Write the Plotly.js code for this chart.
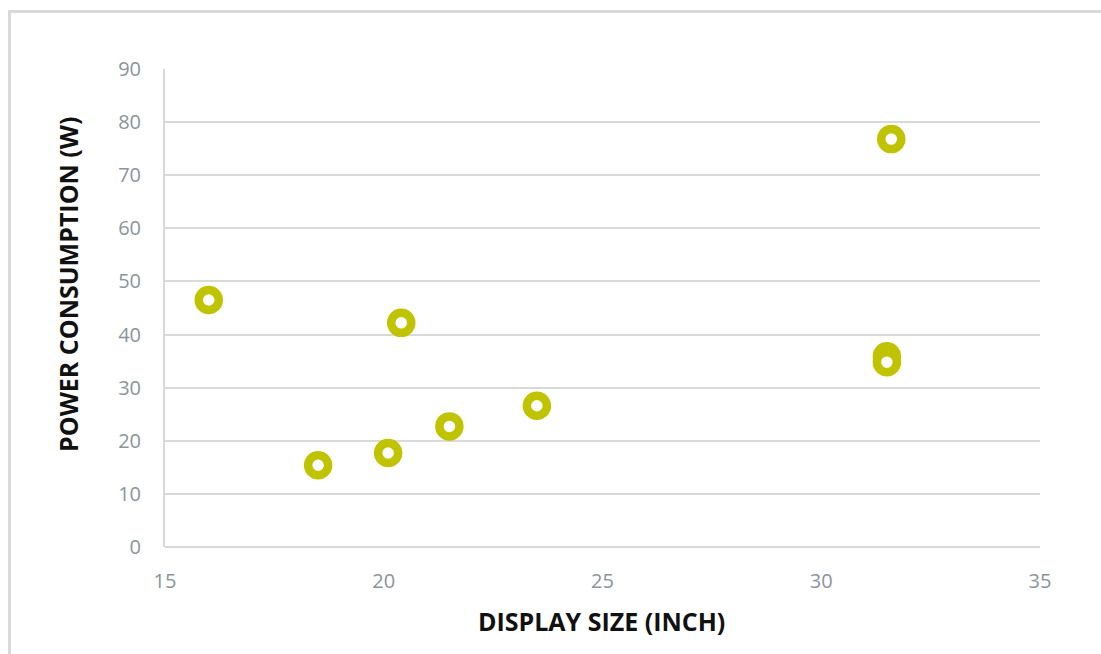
<!DOCTYPE html>
<html>
<head>
<meta charset="utf-8">
<script src="https://cdn.plot.ly/plotly-3.0.1.min.js"></script>
<style>
  html, body { margin: 0; padding: 0; background: #fff; }
  #frame { position: absolute; left: 8px; top: 10px; width: 1200px; height: 700px;
           border-left: 3px solid #d9d9d9; border-top: 3px solid #d9d9d9; }
  #chart { position: absolute; left: 0; top: 0; width: 1101px; height: 654px; }
</style>
</head>
<body>
<div id="frame"></div>
<div id="chart"></div>
<script>
const displaySize = [16.0, 18.5, 20.1, 20.4, 21.5, 23.5, 31.5, 31.5, 31.6];
const powerW      = [46.5, 15.4, 17.7, 42.2, 22.7, 26.6, 35.9, 34.8, 76.8];
const xTicks = [15, 20, 25, 30, 35];
const yTicks = [0, 10, 20, 30, 40, 50, 60, 70, 80, 90];
const xTitle = 'DISPLAY SIZE (INCH)';
const yTitle = 'POWER CONSUMPTION (W)';

const trace = {
  x: displaySize, y: powerW, type: 'scatter', mode: 'markers',
  marker: { symbol: 'circle', size: 20, color: '#ffffff',
            line: { color: '#bfc300', width: 8.5 } },
  hoverinfo: 'x+y', cliponaxis: false
};

const tickFont = { family: 'Open Sans, sans-serif', size: 20, color: '#8a949c' };
const titleFont = { family: 'Open Sans, sans-serif', size: 25, color: '#111111', weight: 'bold' };

const layout = {
  width: 1101, height: 654,
  margin: { l: 165, r: 61, t: 69, b: 107 },
  paper_bgcolor: 'rgba(0,0,0,0)', plot_bgcolor: 'rgba(0,0,0,0)',
  showlegend: false,
  xaxis: {
    range: [15, 35], tickvals: xTicks, ticktext: xTicks.map(String),
    showgrid: false, zeroline: false, showline: false, ticks: '',
    tickfont: tickFont, ticklabelstandoff: 20
  },
  yaxis: {
    range: [0, 90], tickvals: yTicks, ticktext: yTicks.map(String),
    showgrid: true, gridcolor: '#d9d9d9', gridwidth: 2,
    zeroline: true, zerolinecolor: '#d9d9d9', zerolinewidth: 2,
    showline: true, linecolor: '#d9d9d9', linewidth: 2, ticks: '',
    tickfont: tickFont, ticklabelstandoff: 18
  },
  annotations: [
    { text: xTitle, xref: 'paper', yref: 'paper', x: 0.4983, y: -0.1548,
      xanchor: 'center', yanchor: 'middle', showarrow: false, font: titleFont },
    { text: yTitle, xref: 'paper', yref: 'paper', x: -0.1109, y: 0.5502,
      xanchor: 'center', yanchor: 'middle', showarrow: false, textangle: -90, font: titleFont }
  ]
};

Plotly.newPlot('chart', [trace], layout, { displayModeBar: false, staticPlot: true });
</script>
</body>
</html>
